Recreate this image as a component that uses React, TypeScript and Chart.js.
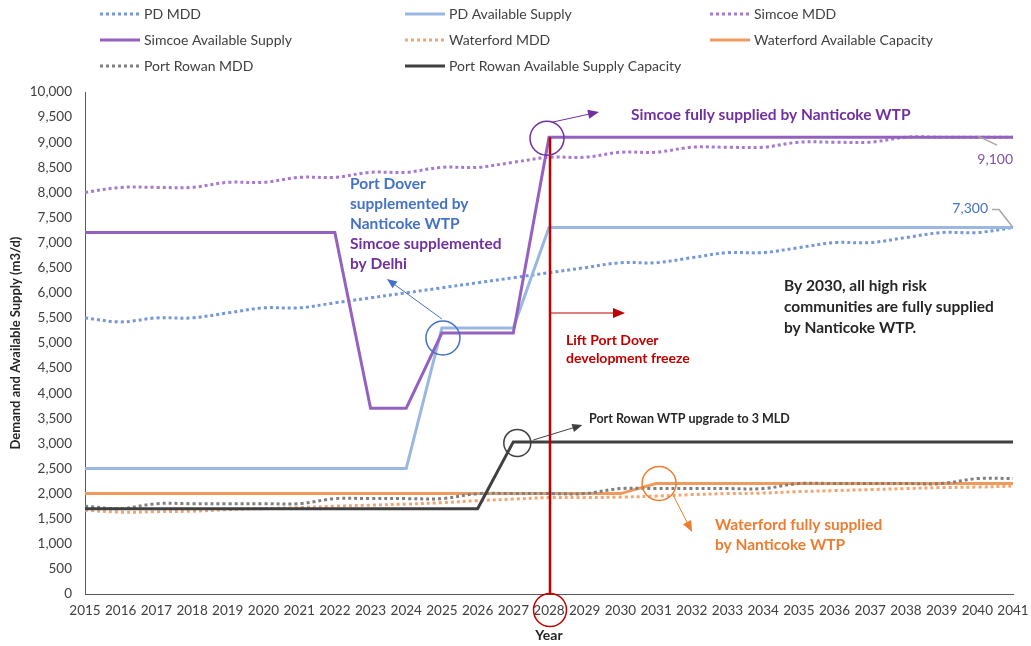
import React, { useEffect, useRef } from 'react';
import { Chart, registerables } from 'chart.js';

Chart.register(...registerables);

const years = ['2015', '2016', '2017', '2018', '2019', '2020', '2021', '2022', '2023', '2024', '2025', '2026', '2027', '2028', '2029', '2030', '2031', '2032', '2033', '2034', '2035', '2036', '2037', '2038', '2039', '2040', '2041'];

const pdMdd = [5500, 5420, 5500, 5500, 5600, 5700, 5700, 5800, 5900, 6000, 6100, 6200, 6300, 6400, 6500, 6600, 6600, 6700, 6800, 6800, 6900, 7000, 7000, 7100, 7200, 7200, 7300];
const pdSupply = [2500, 2500, 2500, 2500, 2500, 2500, 2500, 2500, 2500, 2500, 5300, 5300, 5300, 7300, 7300, 7300, 7300, 7300, 7300, 7300, 7300, 7300, 7300, 7300, 7300, 7300, 7300];
const simcoeMdd = [8000, 8100, 8100, 8100, 8200, 8200, 8300, 8300, 8400, 8400, 8500, 8500, 8600, 8700, 8700, 8800, 8800, 8900, 8900, 8900, 9000, 9000, 9000, 9100, 9100, 9100, 9100];
const simcoeSupply = [7200, 7200, 7200, 7200, 7200, 7200, 7200, 7200, 3700, 3700, 5200, 5200, 5200, 9100, 9100, 9100, 9100, 9100, 9100, 9100, 9100, 9100, 9100, 9100, 9100, 9100, 9100];
const waterfordMdd = [1670, 1630, 1640, 1650, 1680, 1700, 1720, 1750, 1770, 1790, 1820, 1860, 1890, 1920, 1920, 1930, 1950, 1980, 2000, 2010, 2040, 2060, 2080, 2100, 2120, 2130, 2150];
const waterfordCapacity = [2000, 2000, 2000, 2000, 2000, 2000, 2000, 2000, 2000, 2000, 2000, 2000, 2000, 2000, 2000, 2000, 2200, 2200, 2200, 2200, 2200, 2200, 2200, 2200, 2200, 2200, 2200];
const portRowanMdd = [1750, 1700, 1800, 1800, 1800, 1800, 1800, 1900, 1900, 1900, 1900, 2000, 2000, 2000, 2000, 2100, 2100, 2100, 2100, 2100, 2200, 2200, 2200, 2200, 2200, 2300, 2300];
const portRowanSupply = [1700, 1700, 1700, 1700, 1700, 1700, 1700, 1700, 1700, 1700, 1700, 1700, 3030, 3030, 3030, 3030, 3030, 3030, 3030, 3030, 3030, 3030, 3030, 3030, 3030, 3030, 3030];

const seriesNames = ['PD MDD', 'PD Available Supply', 'Simcoe MDD', 'Simcoe Available Supply', 'Waterford MDD', 'Waterford Available Capacity', 'Port Rowan MDD', 'Port Rowan Available Supply Capacity'];
const seriesData = [pdMdd, pdSupply, simcoeMdd, simcoeSupply, waterfordMdd, waterfordCapacity, portRowanMdd, portRowanSupply];
const seriesColors = ['#7397D9', '#9AB7E3', '#A678D0', '#9461C0', '#F4A46E', '#F09A5E', '#7F7F7F', '#404040'];
const seriesDotted = [true, false, true, false, true, false, true, false];

const yMax = 10000;
const yStep = 500;

const FONT = 'Lato, "Open Sans", "DejaVu Sans", sans-serif';

function drawArrow(ctx: CanvasRenderingContext2D, x1: number, y1: number, x2: number, y2: number, color: string, lw = 1, head = 10) {
  const a = Math.atan2(y2 - y1, x2 - x1);
  ctx.save();
  ctx.strokeStyle = color;
  ctx.fillStyle = color;
  ctx.lineWidth = lw;
  ctx.setLineDash([]);
  ctx.beginPath();
  ctx.moveTo(x1, y1);
  ctx.lineTo(x2 - Math.cos(a) * head * 0.8, y2 - Math.sin(a) * head * 0.8);
  ctx.stroke();
  ctx.beginPath();
  ctx.moveTo(x2, y2);
  ctx.lineTo(x2 - Math.cos(a) * head + Math.sin(a) * head * 0.42, y2 - Math.sin(a) * head - Math.cos(a) * head * 0.42);
  ctx.lineTo(x2 - Math.cos(a) * head - Math.sin(a) * head * 0.42, y2 - Math.sin(a) * head + Math.cos(a) * head * 0.42);
  ctx.closePath();
  ctx.fill();
  ctx.restore();
}

function drawCircle(ctx: CanvasRenderingContext2D, x: number, y: number, r: number, color: string) {
  ctx.save();
  ctx.strokeStyle = color;
  ctx.lineWidth = 1.5;
  ctx.setLineDash([]);
  ctx.beginPath();
  ctx.arc(x, y, r, 0, Math.PI * 2);
  ctx.stroke();
  ctx.restore();
}

function drawText(ctx: CanvasRenderingContext2D, lines: string[], x: number, y: number, lh: number, font: string, color: string, align: CanvasTextAlign = 'left') {
  ctx.save();
  ctx.font = font;
  ctx.fillStyle = color;
  ctx.textAlign = align;
  ctx.textBaseline = 'middle';
  lines.forEach((l, i) => ctx.fillText(l, x, y + i * lh));
  ctx.restore();
}

const annotationPlugin = {
  id: 'annotations',
  afterDatasetsDraw(chart: any) {
    const ctx: CanvasRenderingContext2D = chart.ctx;
    const xs = chart.scales.x;
    const ys = chart.scales.y;
    const X = (yr: string) => xs.getPixelForValue(years.indexOf(yr));
    const Y = (v: number) => ys.getPixelForValue(v);
    const area = chart.chartArea;

    // red vertical line at 2028
    const x28 = X('2028');
    ctx.save();
    ctx.strokeStyle = '#C00000';
    ctx.lineWidth = 2.5;
    ctx.beginPath();
    ctx.moveTo(x28 + 1, Y(9100));
    ctx.lineTo(x28 + 1, area.bottom + 1);
    ctx.stroke();
    ctx.restore();
    drawArrow(ctx, x28 + 1, 313, x28 + 76, 313, '#C00000', 1, 12);
    drawCircle(ctx, x28 + 1, area.bottom + 16, 16.5, '#C00000');
    drawText(ctx, ['Lift Port Dover', 'development freeze'], 566, 340, 18, `bold 14px ${FONT}`, '#C00000');

    // Simcoe fully supplied
    drawCircle(ctx, x28 - 2, Y(9100) + 1, 17, '#7030A0');
    drawArrow(ctx, x28 + 4, 122, x28 + 50, 112, '#7030A0', 1, 11);
    drawText(ctx, ['Simcoe fully supplied by Nanticoke WTP'], 631, 115, 20, `bold 15.5px ${FONT}`, '#7030A0');

    // Port Dover supplemented
    const x25 = X('2025');
    drawCircle(ctx, x25 + 1, Y(5100), 17, '#4472C4');
    drawArrow(ctx, x25, 319, x25 - 55, 279, '#4472C4', 1, 10);
    drawText(ctx, ['Port Dover', 'supplemented by', 'Nanticoke WTP'], 350, 184, 20, `bold 15.5px ${FONT}`, '#4472C4');
    drawText(ctx, ['Simcoe supplemented', 'by Delhi'], 350, 244, 20, `bold 15.5px ${FONT}`, '#7030A0');

    // Port Rowan upgrade
    const x27 = X('2027');
    drawCircle(ctx, x27 + 4, Y(3030) + 1, 13.5, '#404040');
    drawArrow(ctx, x27 + 20, 440, x27 + 69, 425, '#404040', 1, 10);
    drawText(ctx, ['Port Rowan WTP upgrade to 3 MLD'], 589, 419, 18, `bold 12.5px ${FONT}`, '#262626');

    // Waterford fully supplied
    const x31 = X('2031');
    drawCircle(ctx, x31 + 3, Y(2200), 17, '#ED7D31');
    drawArrow(ctx, x31 + 17, 495, x31 + 36, 532, '#ED7D31', 1, 11);
    drawText(ctx, ['Waterford fully supplied', 'by Nanticoke WTP'], 715, 525, 20, `bold 15.5px ${FONT}`, '#ED7D31');

    // By 2030 text
    drawText(ctx, ['By 2030, all high risk', 'communities are fully supplied', 'by Nanticoke WTP.'], 784, 286, 21, `bold 15.5px ${FONT}`, '#262626');

    // Data labels with leader lines
    const x41 = X('2041');
    ctx.save();
    ctx.strokeStyle = '#A6A6A6';
    ctx.lineWidth = 1.5;
    ctx.beginPath();
    ctx.moveTo(x41 - 35, Y(9100) - 1);
    ctx.lineTo(x41 - 16, Y(9100) + 8);
    ctx.stroke();
    ctx.beginPath();
    ctx.moveTo(x41 - 21, Y(7300) - 18);
    ctx.lineTo(x41 - 14, Y(7300) - 18);
    ctx.lineTo(x41, Y(7300));
    ctx.stroke();
    ctx.restore();
    drawText(ctx, ['9,100'], x41, Y(9100) + 22, 18, `14px ${FONT}`, '#7F4FB0', 'right');
    drawText(ctx, ['7,300'], x41 - 25, Y(7300) - 19, 18, `14px ${FONT}`, '#4472C4', 'right');
  },
  afterDraw(chart: any) {
    const ctx: CanvasRenderingContext2D = chart.ctx;
    const colX = [100, 405, 710];
    const rowY = [14, 40, 66];
    seriesNames.forEach((name, i) => {
      const col = i % 3;
      const row = Math.floor(i / 3);
      const x = colX[col];
      const y = rowY[row];
      ctx.save();
      ctx.strokeStyle = seriesColors[i];
      ctx.lineWidth = 3;
      ctx.lineCap = 'butt';
      ctx.setLineDash(seriesDotted[i] ? [3, 3] : []);
      ctx.beginPath();
      ctx.moveTo(x, y);
      ctx.lineTo(x + 40, y);
      ctx.stroke();
      ctx.restore();
      drawText(ctx, [name], x + 44, y, 18, `14px ${FONT}`, '#404040');
    });
  },
};

export default function App() {
  const canvasRef = useRef<HTMLCanvasElement>(null);

  useEffect(() => {
    if (!canvasRef.current) return;
    const chart = new Chart(canvasRef.current, {
      type: 'line',
      data: {
        labels: years,
        datasets: seriesNames.map((name, i) => ({
          label: name,
          data: seriesData[i],
          borderColor: seriesColors[i],
          backgroundColor: seriesColors[i],
          borderWidth: 3,
          borderDash: seriesDotted[i] ? [3, 3] : [],
          borderCapStyle: 'butt' as const,
          pointRadius: 0,
          pointHoverRadius: 0,
          tension: seriesDotted[i] ? 0.35 : 0,
          fill: false,
          order: seriesNames.length - i,
        })),
      },
      options: {
        responsive: false,
        devicePixelRatio: 1,
        animation: false,
        layout: { padding: { top: 92, right: 18, left: 0, bottom: 0 } },
        plugins: {
          legend: { display: false },
          tooltip: { enabled: false },
        },
        scales: {
          x: {
            type: 'category',
            offset: false,
            grid: { display: false, drawTicks: false },
            border: { display: true, color: '#595959', width: 1 },
            ticks: {
              autoSkip: false,
              maxRotation: 0,
              padding: 9,
              color: '#404040',
              font: { family: FONT, size: 13.5 },
            },
            title: {
              display: true,
              text: 'Year',
              color: '#262626',
              font: { family: FONT, size: 14, weight: 'bold' },
              padding: { top: 2, bottom: 2 },
            },
            afterFit: (s: any) => {
              s.height = 52;
              s.paddingLeft = 0;
              s.paddingRight = 0;
            },
          },
          y: {
            min: 0,
            max: yMax,
            grid: { display: false, drawTicks: false },
            border: { display: true, color: '#595959', width: 1 },
            ticks: {
              stepSize: yStep,
              padding: 13,
              color: '#404040',
              font: { family: FONT, size: 13.5 },
              callback: (v: any) => Number(v).toLocaleString('en-US'),
            },
            title: {
              display: true,
              text: 'Demand and Available Supply (m3/d)',
              color: '#262626',
              font: { family: FONT, size: 13, weight: 'bold' },
              padding: { top: 8, bottom: 0 },
            },
            afterFit: (s: any) => {
              s.width = 85;
              s.paddingTop = 0;
              s.paddingBottom = 0;
            },
          },
        },
      },
      plugins: [annotationPlugin],
    } as any);
    return () => chart.destroy();
  }, []);

  return (
    <div style={{ position: 'absolute', left: 0, top: 0, width: 1031, height: 646, background: '#fff' }}>
      <canvas ref={canvasRef} width={1031} height={646} />
    </div>
  );
}
